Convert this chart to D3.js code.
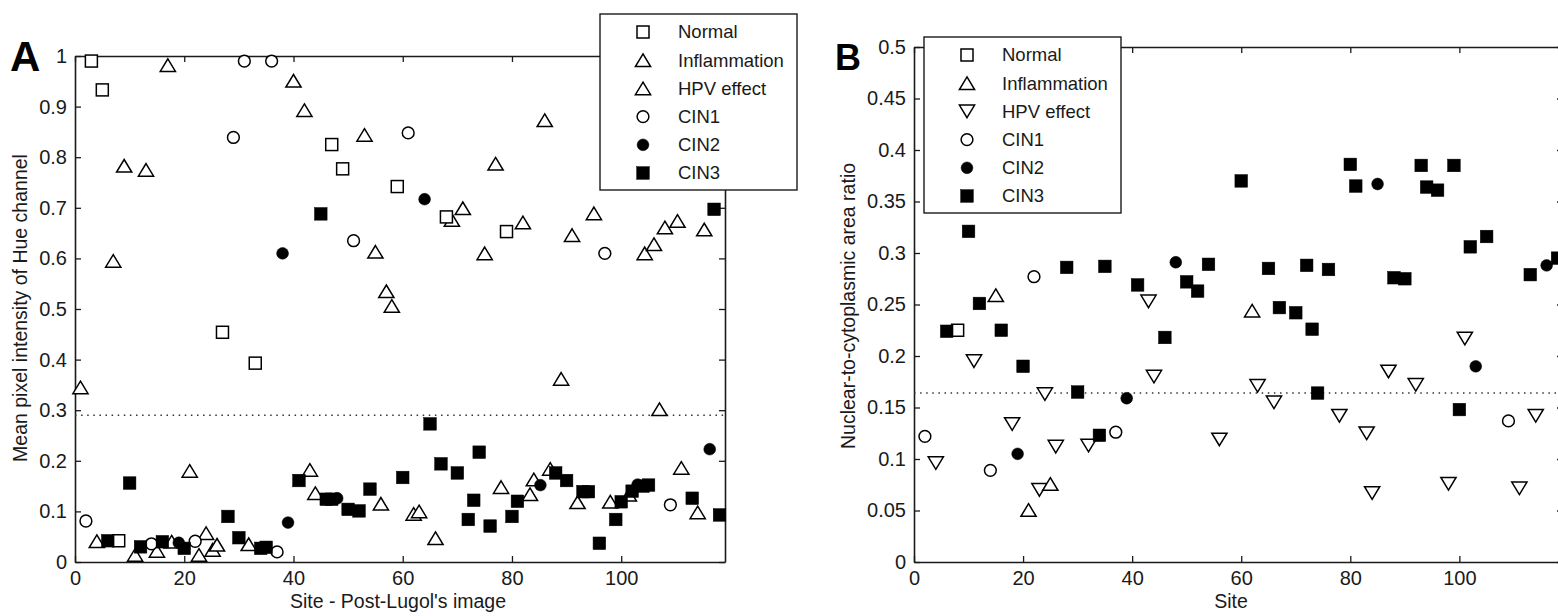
<!DOCTYPE html>
<html>
<head>
<meta charset="utf-8">
<script src="https://cdn.jsdelivr.net/npm/d3@7"></script>
<style>
    body { margin: 0; background: #fff; }
    svg { display: block; font-family: "Liberation Sans", Arial, sans-serif; }
</style>
</head>
<body>
<div id="chart"></div>
<script>
// series are [site, value] pairs
const legendLabels = ["Normal", "Inflammation", "HPV effect", "CIN1", "CIN2", "CIN3"];
const xTicks = [0, 20, 40, 60, 80, 100];
const aYTicks = [0, 0.1, 0.2, 0.3, 0.4, 0.5, 0.6, 0.7, 0.8, 0.9, 1];
const aYTickLabels = ["0", "0.1", "0.2", "0.3", "0.4", "0.5", "0.6", "0.7", "0.8", "0.9", "1"];
const bYTicks = [0, 0.05, 0.1, 0.15, 0.2, 0.25, 0.3, 0.35, 0.4, 0.45, 0.5];
const bYTickLabels = ["0", "0.05", "0.1", "0.15", "0.2", "0.25", "0.3", "0.35", "0.4", "0.45", "0.5"];

// Panel A - hue channel (inflammation and HPV effect share the same marker here)
const aNormal = [[3, 0.99], [5, 0.933], [8, 0.042], [27, 0.454], [33, 0.393], [47, 0.825], [49, 0.777],
    [59, 0.742], [68, 0.682], [79, 0.653]];
const aTriangle = [[1, 0.345], [4, 0.041], [7, 0.595], [9, 0.783], [11, 0.014], [13, 0.775], [15, 0.022],
    [17, 0.982], [17.7, 0.040], [21, 0.180], [22.7, 0.014], [24, 0.057], [25.2, 0.024], [26, 0.034],
    [31.8, 0.035], [40, 0.951], [42, 0.893], [43, 0.182], [44, 0.136], [53, 0.844], [55, 0.613],
    [56, 0.115], [57, 0.535], [58, 0.506], [62, 0.095], [63, 0.100], [66, 0.047], [69, 0.676],
    [71, 0.699], [75, 0.61], [77, 0.787], [78, 0.148], [82, 0.671], [83.3, 0.134], [84, 0.163],
    [86, 0.873], [87, 0.184], [89, 0.362], [91, 0.646], [92, 0.118], [95, 0.689], [98, 0.119],
    [101.4, 0.133], [104.3, 0.61], [106, 0.628], [107, 0.302], [108, 0.661], [110.3, 0.674],
    [111, 0.186], [114, 0.098], [115.2, 0.657]];
const aCin1 = [[2, 0.081], [14, 0.036], [22, 0.041], [29, 0.839], [31, 0.99], [36, 0.99], [37, 0.02],
    [51, 0.635], [61, 0.848], [97, 0.61], [109, 0.113]];
const aCin2 = [[19, 0.038], [38, 0.61], [39, 0.078], [48, 0.126], [64, 0.717], [85.2, 0.152],
    [103, 0.153], [116.2, 0.223]];
const aCin3 = [[6, 0.042], [10, 0.156], [12, 0.030], [16, 0.040], [20, 0.027], [28, 0.090], [30, 0.048],
    [34, 0.027], [35, 0.029], [41, 0.161], [45, 0.688], [46, 0.124], [47, 0.124], [50, 0.104],
    [52, 0.101], [54, 0.144], [60, 0.167], [65, 0.273], [67, 0.194], [70, 0.176], [72, 0.084],
    [73, 0.122], [74, 0.217], [76, 0.071], [80, 0.090], [81, 0.120], [88, 0.176], [90, 0.161],
    [93, 0.139], [94, 0.139], [96, 0.037], [99, 0.084], [100, 0.119], [102, 0.140], [104, 0.150],
    [105, 0.152], [113, 0.126], [117, 0.697], [118, 0.093]];
const aThreshold = 0.29;

// Panel B - nuclear-to-cytoplasmic area ratio
const bNormal = [[8, 0.225]];
const bInflammation = [[15, 0.259], [21, 0.0505], [25, 0.0757], [62, 0.244]];
const bHpv = [[4, 0.096], [11, 0.195], [18, 0.134], [23, 0.07], [24, 0.163], [26, 0.112], [32, 0.113],
    [43, 0.253], [44, 0.18], [56, 0.119], [63, 0.171], [66, 0.155], [78, 0.142], [83, 0.125],
    [84, 0.067], [87, 0.185], [92, 0.172], [98, 0.076], [101, 0.217], [111, 0.0715], [114, 0.142]];
const bCin1 = [[2, 0.122], [14, 0.089], [22, 0.277], [37, 0.126], [109, 0.137]];
const bCin2 = [[19, 0.105], [39, 0.159], [48, 0.291], [85, 0.367], [103, 0.19], [116, 0.288]];
const bCin3 = [[6, 0.224], [10, 0.321], [12, 0.251], [16, 0.225], [20, 0.19], [28, 0.286], [30, 0.165],
    [34, 0.123], [35, 0.287], [41, 0.269], [46, 0.218], [50, 0.272], [52, 0.263], [54, 0.289],
    [60, 0.37], [65, 0.285], [67, 0.247], [70, 0.242], [72, 0.288], [73, 0.226], [74, 0.164],
    [76, 0.284], [80, 0.386], [81, 0.365], [88, 0.276], [90, 0.275], [93, 0.385], [94, 0.364],
    [96, 0.361], [99, 0.385], [100, 0.148], [102, 0.306], [105, 0.316], [113, 0.279], [118, 0.295]];
const bThreshold = 0.164;

const svg = d3.select("#chart")
    .append("svg")
    .attr("width", 1558)
    .attr("height", 616);

const ink = "#1a1a1a";

function marker(sel, type) {
    if (type === "square" || type === "squareFill") {
        const s = type === "square" ? 12 : 12.6;
        sel.append("rect")
            .attr("x", -s / 2).attr("y", -s / 2)
            .attr("width", s).attr("height", s)
            .attr("fill", type === "square" ? "#fff" : "#000")
            .attr("stroke", "#000")
            .attr("stroke-width", type === "square" ? 1.5 : 0.5);
    } else if (type === "circle" || type === "circleFill") {
        sel.append("circle")
            .attr("r", 5.9)
            .attr("fill", type === "circle" ? "#fff" : "#000")
            .attr("stroke", "#000")
            .attr("stroke-width", type === "circle" ? 1.5 : 0.5);
    } else {
        const d = type === "triUp" ? "M0,-6.3L7.6,6.3L-7.6,6.3Z" : "M0,6.3L7.6,-6.3L-7.6,-6.3Z";
        sel.append("path")
            .attr("d", d)
            .attr("fill", "#fff")
            .attr("stroke", "#000")
            .attr("stroke-width", 1.5);
    }
}

function drawPanel(p) {
    const x = d3.scaleLinear().domain([0, 119]).range([p.left, p.right]);
    const y = d3.scaleLinear().domain([0, p.yMax]).range([p.bottom, p.top]);
    const g = svg.append("g");

    // frame and inward ticks
    g.append("g")
        .attr("transform", `translate(0,${p.bottom})`)
        .call(d3.axisBottom(x).tickValues(xTicks).tickSize(-6).tickSizeOuter(0).tickPadding(9));
    g.append("g")
        .attr("transform", `translate(0,${p.top})`)
        .call(d3.axisTop(x).tickValues(xTicks).tickSize(-6).tickSizeOuter(0).tickFormat(""));
    g.append("g")
        .attr("transform", `translate(${p.left},0)`)
        .call(d3.axisLeft(y).tickValues(p.yTicks).tickSize(-6).tickSizeOuter(0).tickPadding(8)
            .tickFormat((d, i) => p.yTickLabels[i]));
    g.append("g")
        .attr("transform", `translate(${p.right},0)`)
        .call(d3.axisRight(y).tickValues(p.yTicks).tickSize(-6).tickSizeOuter(0).tickFormat(""));

    g.selectAll(".domain").attr("stroke", ink).attr("stroke-width", 1.6);
    g.selectAll(".tick line").attr("stroke", ink).attr("stroke-width", 1.3);
    g.selectAll(".tick text").attr("font-size", 20).attr("fill", ink)
        .attr("font-family", "'Liberation Sans', Arial, sans-serif");

    // threshold
    g.append("line")
        .attr("x1", p.left).attr("x2", p.right)
        .attr("y1", y(p.threshold)).attr("y2", y(p.threshold))
        .attr("stroke", "#333")
        .attr("stroke-width", 1.5)
        .attr("stroke-dasharray", "1.5,4.6");

    // points
    p.series.forEach(s => {
        g.append("g").selectAll("g")
            .data(s.data)
            .enter().append("g")
            .attr("transform", d => `translate(${x(d[0])},${y(d[1])})`)
            .each(function() { marker(d3.select(this), s.type); });
    });

    // axis labels
    g.append("text")
        .attr("x", p.xLabelX)
        .attr("y", 608)
        .attr("text-anchor", "middle")
        .attr("font-size", 19.5)
        .attr("fill", ink)
        .text(p.xLabel);
    g.append("text")
        .attr("transform", `translate(${p.yLabelX},${p.yLabelY}) rotate(-90)`)
        .attr("text-anchor", "middle")
        .attr("dy", "0.35em")
        .attr("font-size", 19.5)
        .attr("fill", ink)
        .text(p.yLabel);

    // panel letter
    g.append("text")
        .attr("x", p.letterX)
        .attr("y", p.letterY)
        .attr("font-size", p.letterSize)
        .attr("font-weight", "bold")
        .attr("fill", "#000")
        .text(p.letter);

    // legend
    const lg = g.append("g").attr("transform", `translate(${p.legend.x},${p.legend.y})`);
    lg.append("rect")
        .attr("width", 197).attr("height", 176)
        .attr("fill", "#fff")
        .attr("stroke", ink)
        .attr("stroke-width", 1.4);
    legendLabels.forEach((label, i) => {
        const row = lg.append("g").attr("transform", `translate(0,${18 + i * 28.2})`);
        marker(row.append("g").attr("transform", "translate(43,0)"), p.legendTypes[i]);
        row.append("text")
            .attr("x", 78)
            .attr("dy", "0.35em")
            .attr("font-size", 18.5)
            .attr("fill", ink)
            .text(label);
    });
}

drawPanel({
    left: 75, right: 725, top: 56, bottom: 562,
    yMax: 1, yTicks: aYTicks, yTickLabels: aYTickLabels,
    threshold: aThreshold,
    series: [
        { data: aTriangle, type: "triUp" },
        { data: aNormal, type: "square" },
        { data: aCin1, type: "circle" },
        { data: aCin3, type: "squareFill" },
        { data: aCin2, type: "circleFill" }
    ],
    xLabel: "Site - Post-Lugol's image", xLabelX: 398,
    yLabel: "Mean pixel intensity of Hue channel", yLabelX: 20, yLabelY: 308,
    letter: "A", letterX: 10, letterY: 71, letterSize: 42,
    legend: { x: 600, y: 14 },
    legendTypes: ["square", "triUp", "triUp", "circle", "circleFill", "squareFill"]
});

drawPanel({
    left: 914, right: 1563, top: 47, bottom: 562,
    yMax: 0.5, yTicks: bYTicks, yTickLabels: bYTickLabels,
    threshold: bThreshold,
    series: [
        { data: bHpv, type: "triDown" },
        { data: bInflammation, type: "triUp" },
        { data: bNormal, type: "square" },
        { data: bCin1, type: "circle" },
        { data: bCin3, type: "squareFill" },
        { data: bCin2, type: "circleFill" }
    ],
    xLabel: "Site", xLabelX: 1231,
    yLabel: "Nuclear-to-cytoplasmic area ratio", yLabelX: 848, yLabelY: 306,
    letter: "B", letterX: 835, letterY: 70, letterSize: 36,
    legend: { x: 924, y: 37 },
    legendTypes: ["square", "triUp", "triDown", "circle", "circleFill", "squareFill"]
});
</script>
</body>
</html>
